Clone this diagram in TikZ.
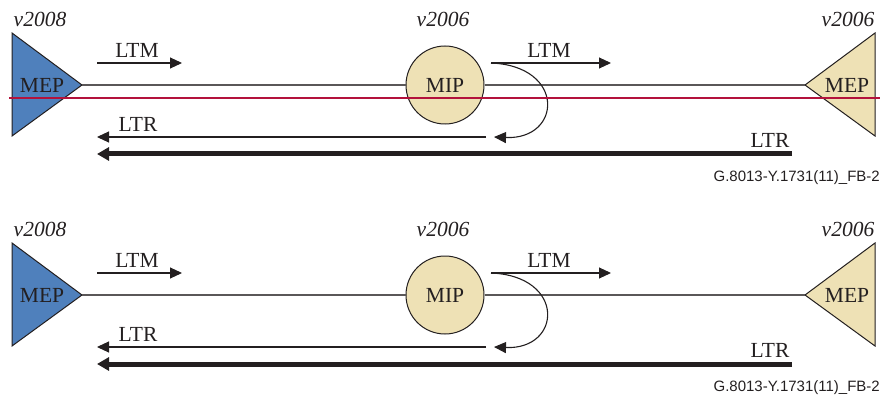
\documentclass[tikz,border=0pt]{standalone}
\usepackage{fontspec}
\setmainfont{Liberation Serif}
\newfontfamily\refsans{Liberation Sans}
\usetikzlibrary{arrows.meta}
\definecolor{mepblue}{HTML}{4F80BC}
\definecolor{mepbeige}{HTML}{EEE1B5}
\definecolor{cutred}{HTML}{B3123C}
\definecolor{ink}{HTML}{231F20}
\tikzset{
	lbl/.style={font=\fontsize{21.5}{24}\selectfont, text=ink, inner sep=0pt},
	ver/.style={lbl, font=\fontsize{21.5}{24}\selectfont\itshape},
	mepshape/.style={draw=ink, line width=1pt, line join=miter},
	mipshape/.style={circle, draw=ink, line width=1pt, fill=mepbeige, minimum size=78pt, inner sep=0pt, font=\fontsize{21.5}{24}\selectfont, text=ink},
	wire/.style={draw=ink!75, line width=1.1pt},
	msg/.style={draw=ink, line width=1.1pt, -{Triangle[length=12pt, width=11pt]}},
	bulk/.style={draw=ink, line width=5pt, -{Triangle[length=12pt, width=13pt]}},
	tag/.style={font=\refsans\fontsize{15}{17}\selectfont, text=ink, inner sep=0pt, anchor=east}
}

\begin{document}
\begin{tikzpicture}[x=1pt, y=-1pt]
	\useasboundingbox (0,0) rectangle (881,401);
	\foreach \p/\oy in {a/0, b/210} {
		\begin{scope}[shift={(0,\oy)}]
			% end points
			\fill[mepblue] (12,33) -- (82,85) -- (12,136) -- cycle;
			\draw[mepshape] (12,33) -- (82,85) -- (12,136) -- cycle;
			\fill[mepbeige] (875,33) -- (805,85) -- (875,136) -- cycle;
			\draw[mepshape] (875,33) -- (805,85) -- (875,136) -- cycle;
			\coordinate (tipl\p) at (82,85);
			\coordinate (tipr\p) at (805,85);
			\node[mipshape] (mip\p) at (445,85) {MIP};
			\node[lbl] (mepl\p) at (42,85) {MEP};
			\node[lbl] (mepr\p) at (847,85) {MEP};
			\node[ver] (verl\p) at (40,19) {v2008};
			\node[ver] (verm\p) at (443,19) {v2006};
			\node[ver] (verr\p) at (848,19) {v2006};
			\draw[wire] (tipl\p) -- (mip\p) -- (tipr\p);
			% messages
			\coordinate (ltma\p) at (97,63);
			\coordinate (ltmb\p) at (182,63);
			\coordinate (ltmc\p) at (491,63);
			\coordinate (ltmd\p) at (611,63);
			\coordinate (turn\p) at (494,137);
			\coordinate (ltra\p) at (486,137);
			\coordinate (ltrb\p) at (97,137);
			\coordinate (bulka\p) at (792,154);
			\coordinate (bulkb\p) at (97,154);
			\draw[msg] (ltma\p) -- (ltmb\p);
			\draw[msg] (ltmc\p) -- (ltmd\p);
			\draw[msg] (ltmc\p) .. controls (566,66) and (562,140) .. (turn\p);
			\draw[msg] (ltra\p) -- (ltrb\p);
			\draw[bulk] (bulka\p) -- (bulkb\p);
			\node[lbl] (ltml\p) at (137,50) {LTM};
			\node[lbl] (ltmr\p) at (549,50) {LTM};
			\node[lbl] (ltrl\p) at (138,124) {LTR};
			\node[lbl] (ltrr\p) at (770,140) {LTR};
			\node[tag] (fig\p) at (880,178) {G.8013-Y.1731(11)\_FB-2};
		\end{scope}
	}
	% cut through the upper one
	\draw[cutred, line width=1.6pt] (9,98) -- (880,98);
\end{tikzpicture}
\end{document}
